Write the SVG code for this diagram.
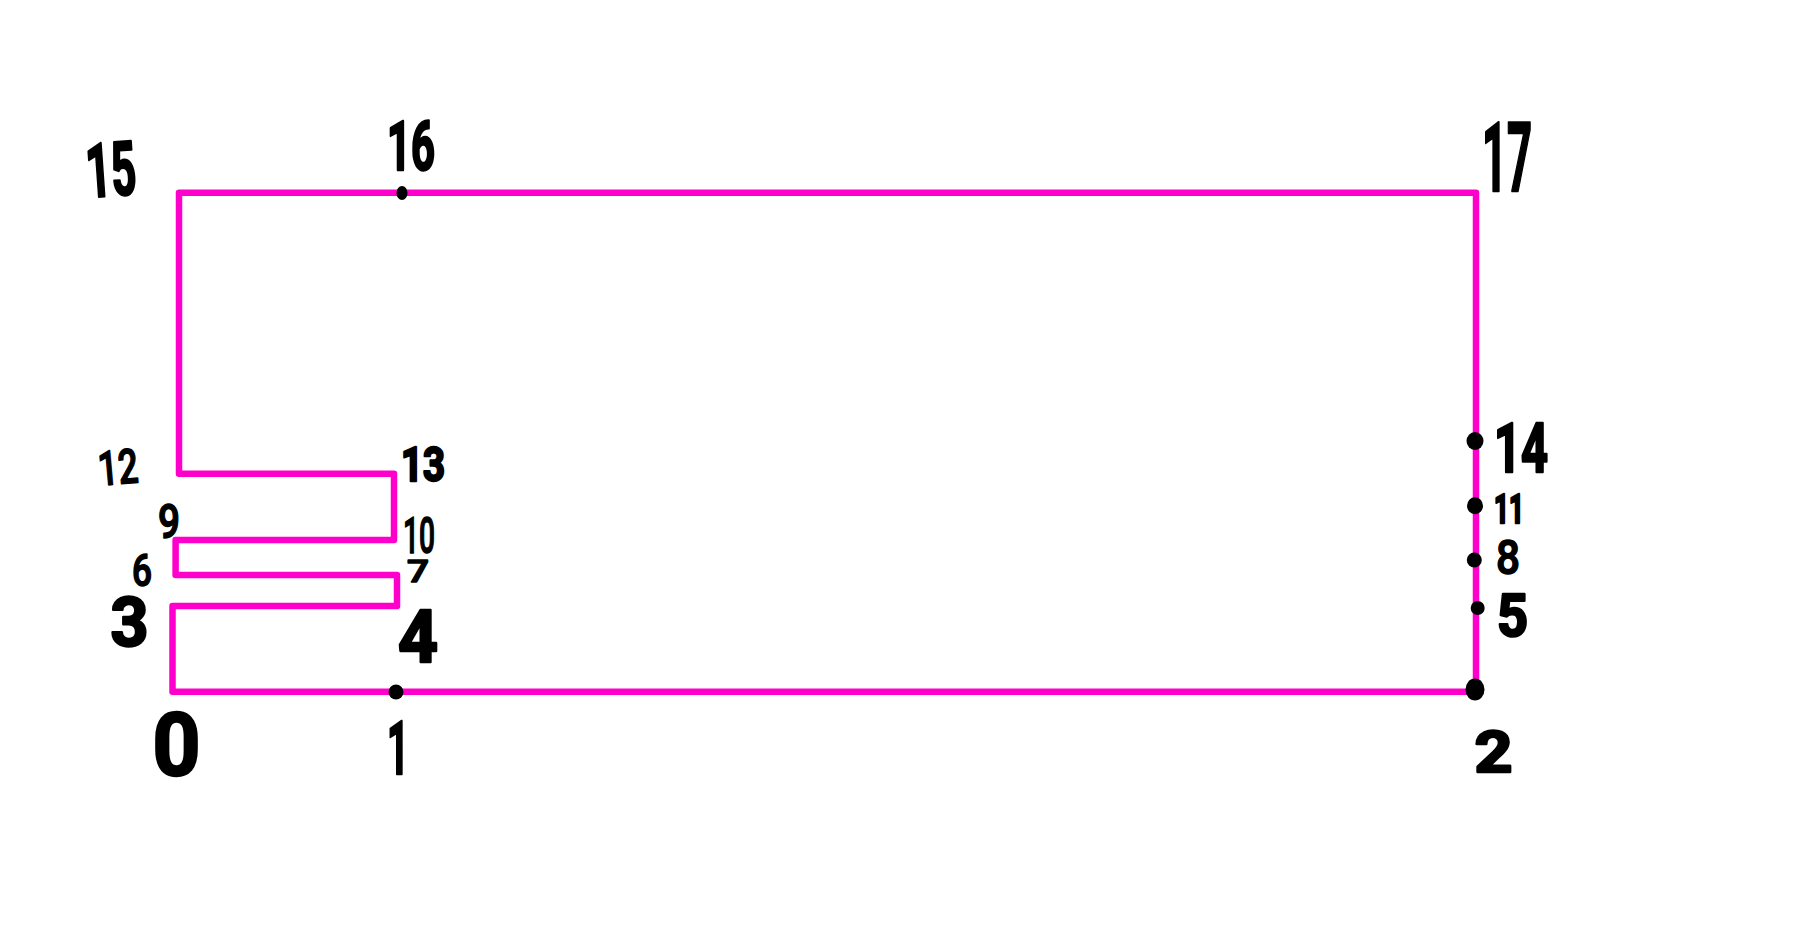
<svg xmlns="http://www.w3.org/2000/svg" width="1808" height="936" viewBox="0 0 1808 936">
<style>
.n{font-family:Roboto,"Liberation Sans",Arial,sans-serif;font-weight:700;fill:#000;stroke:#000;stroke-width:2.5;stroke-linejoin:round;text-anchor:middle}
.s{font-weight:500;stroke-width:1.5}
.d{fill:#000}
.e{fill:none;stroke:#ff00cc;stroke-width:6.500;stroke-linejoin:round;stroke-linecap:round}
</style>
<rect width="1808" height="936" fill="#fff"/>
<g id="connectors"><polygon class="e" points="172.500,691.800 1476,691.800 1476,192.700 179,192.700 179,473.700 394,473.700 394,540 175.600,540 175.600,575 397,575 397,606 172.500,606"/></g>
<g id="node-0"><text class="n" x="176.500" y="775" font-size="87" textLength="48" lengthAdjust="spacingAndGlyphs">0</text></g>
<g id="node-1"><ellipse class="d" cx="396" cy="692" rx="7.500" ry="7.500"/><text class="n" x="398" y="774" font-size="75" textLength="22" lengthAdjust="spacingAndGlyphs">1</text></g>
<g id="node-2"><ellipse class="d" cx="1475" cy="689.500" rx="9.500" ry="11"/><text class="n" x="1493.500" y="772" font-size="58" textLength="38" lengthAdjust="spacingAndGlyphs">2</text></g>
<g id="node-3"><text class="n" x="129.500" y="646" font-size="68" textLength="38" lengthAdjust="spacingAndGlyphs">3</text></g>
<g id="node-4"><text class="n" x="418" y="662" font-size="72" textLength="40" lengthAdjust="spacingAndGlyphs">4</text></g>
<g id="node-5"><ellipse class="d" cx="1477.700" cy="608" rx="7" ry="7"/><text class="n" x="1512.500" y="636" font-size="59" textLength="31" lengthAdjust="spacingAndGlyphs">5</text></g>
<g id="node-6"><text class="n s" x="142" y="586" font-size="44" textLength="20" lengthAdjust="spacingAndGlyphs">6</text></g>
<g id="node-7"><text class="n s" x="418" y="582" font-size="31" textLength="22" lengthAdjust="spacingAndGlyphs">7</text></g>
<g id="node-8"><ellipse class="d" cx="1474.300" cy="560" rx="7.500" ry="7.500"/><text class="n s" x="1508" y="574" font-size="49" textLength="24" lengthAdjust="spacingAndGlyphs">8</text></g>
<g id="node-9"><text class="n s" x="169" y="538" font-size="48" textLength="22" lengthAdjust="spacingAndGlyphs">9</text></g>
<g id="node-10"><text class="n s" x="419" y="553" font-size="50" textLength="32" lengthAdjust="spacingAndGlyphs">10</text></g>
<g id="node-11"><ellipse class="d" cx="1475" cy="505.700" rx="8" ry="8.500"/><text class="n" x="1509" y="523" font-size="40" textLength="30" lengthAdjust="spacingAndGlyphs">11</text></g>
<g id="node-12"><text class="n s" x="118" y="484" font-size="48" textLength="40" lengthAdjust="spacingAndGlyphs" transform="rotate(-5 118 468)">12</text></g>
<g id="node-13"><text class="n" x="423" y="481" font-size="48" textLength="44" lengthAdjust="spacingAndGlyphs">13</text></g>
<g id="node-14"><ellipse class="d" cx="1475" cy="441" rx="8.500" ry="9"/><text class="n" x="1521" y="472" font-size="68" textLength="54" lengthAdjust="spacingAndGlyphs">14</text></g>
<g id="node-15"><text class="n" x="111" y="196" font-size="75" textLength="50" lengthAdjust="spacingAndGlyphs" transform="rotate(-4 110 170)">15</text></g>
<g id="node-16"><ellipse class="d" cx="402" cy="193" rx="5.500" ry="7"/><text class="n" x="411" y="170" font-size="68" textLength="48" lengthAdjust="spacingAndGlyphs">16</text></g>
<g id="node-17"><text class="n" x="1507" y="191" font-size="96" textLength="50" lengthAdjust="spacingAndGlyphs">17</text></g>
</svg>
